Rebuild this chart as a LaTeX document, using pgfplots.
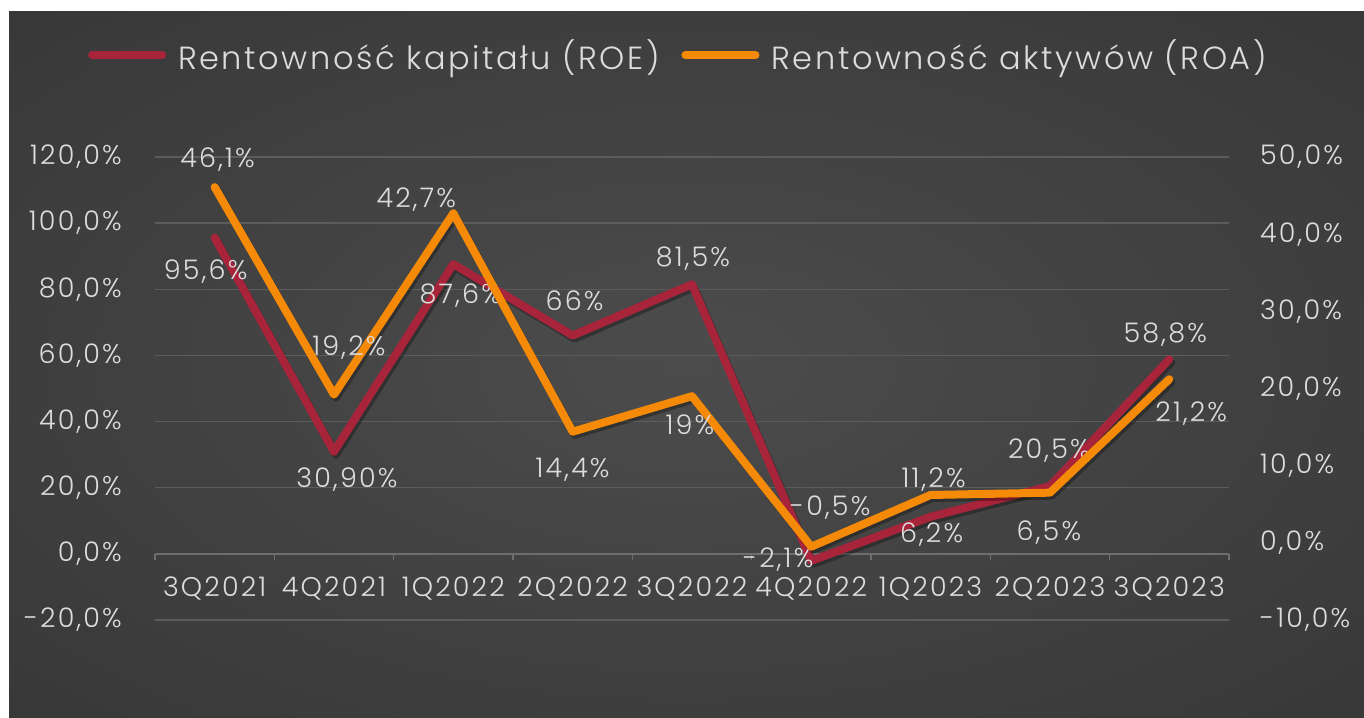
\documentclass[border=0pt]{standalone}
\usepackage{pgfplots}
\pgfplotsset{compat=1.18}
\usepackage{pgfplotstable}
\usepackage{fontspec}
\setmainfont{Poppins}[UprightFont={* Light}, LetterSpace=8]
\definecolor{roe}{RGB}{168,36,58}
\definecolor{roa}{RGB}{245,138,8}
\definecolor{txt}{RGB}{220,220,220}
\definecolor{gridc}{RGB}{92,92,92}
\definecolor{axc}{RGB}{110,110,110}
\definecolor{bgin}{RGB}{76,76,76}
\definecolor{bgout}{RGB}{36,36,36}
\pgfdeclareradialshading{bgshade}{\pgfpoint{0bp}{0bp}}{color(0bp)=(bgin); color(70bp)=(bgout)}

\pgfplotstableread{
x y lab dx dy
0 95.6 95,6 -9 -34
1 30.9 30,90 13 -28
2 87.6 87,6 7 -31
3 66 66 2 35
4 81.5 81,5 1 26
5 -2.1 -2,1 -33 1
6 11.2 11,2 3 37
7 20.5 20,5 -1 35
8 58.8 58,8 -4 25
}\roetable
\pgfplotstableread{
x y lab dx dy
0 46.1 46,1 3 27
1 19.2 19,2 15 47
2 42.7 42,7 -37 14
3 14.4 14,4 0 -38
4 19 19 -2 -29
5 -0.5 -0,5 19 39
6 6.2 6,2 1 -40
7 6.5 6,5 -1 -40
8 21.2 21,2 22 -34
}\roatable

\pgfplotsset{
  base/.style={
    scale only axis, width=1074pt, height=463pt,
    at={(155pt,97pt)}, anchor=south west,
    xmin=-0.5, xmax=8.5,
    tick label style={text=txt, font=\fontsize{27}{31}\selectfont},
    /pgf/number format/assume math mode=true,
    clip=false,
  },
  lbl/.style={
    nodes near coords={\pgfplotspointmeta\%},
    point meta=explicit symbolic,
    visualization depends on={\thisrow{dx}\as\dx},
    visualization depends on={\thisrow{dy}\as\dy},
    nodes near coords align={anchor=center},
    every node near coord/.append style={text=txt, font=\fontsize{27}{31}\selectfont, xshift=\dx pt, yshift=\dy pt, inner sep=0pt, anchor=center},
  },
  ln/.style={line width=8pt, line join=round, line cap=round, mark=none},
  shadow/.style={black, opacity=0.3, line width=8pt, line join=round, line cap=round, mark=none, forget plot, xshift=2pt, yshift=-3pt},
}

\begin{document}
\begin{tikzpicture}
\useasboundingbox (0pt,0pt) rectangle (1364pt,717pt);
\fill[white] (0pt,0pt) rectangle (1364pt,717pt);
\shade[shading=bgshade] (9pt,0pt) rectangle (1364pt,705pt);

\begin{axis}[base,
  ymin=-20, ymax=120, ytick={-20,0,...,120},
  yticklabels={{-20,0\%},{0,0\%},{20,0\%},{40,0\%},{60,0\%},{80,0\%},{100,0\%},{120,0\%}},
  axis x line*=middle, axis y line*=left,
  x axis line style={draw=axc, line width=1.5pt},
  y axis line style={draw=none},
  ytick style={draw=none},
  ymajorgrids, major grid style={draw=gridc, line width=1.5pt},
  xtick={0,...,8},
  xticklabels={3Q2021,4Q2021,1Q2022,2Q2022,3Q2022,4Q2022,1Q2023,2Q2023,3Q2023},
  major x tick style={draw=none},
  minor xtick={-0.5,0.5,...,8.5},
  minor x tick style={draw=axc, line width=1.2pt},
  minor tick length=6pt,
  xtick align=outside,
  xticklabel style={anchor=north, inner sep=0pt, yshift=-18pt},
  yticklabel style={anchor=east, inner sep=0pt, xshift=-33pt},
]
\addplot[shadow] table[x=x, y=y] {\roetable};
\addplot[roe, ln, lbl] table[x=x, y=y, meta=lab] {\roetable};
\end{axis}

\begin{axis}[base,
  ymin=-10, ymax=50, ytick={-10,0,...,50},
  yticklabels={{-10,0\%},{0,0\%},{10,0\%},{20,0\%},{30,0\%},{40,0\%},{50,0\%}},
  axis x line=none, xtick=\empty,
  axis y line*=right,
  y axis line style={draw=none},
  ytick style={draw=none},
  yticklabel style={anchor=west, inner sep=0pt, xshift=31pt},
  legend style={at={(0.4874,1.22)}, anchor=center, draw=none, fill=none,
    font=\fontsize{32}{36}\selectfont, text=txt, inner sep=0pt,
    /tikz/every even column/.append style={column sep=20pt}},
  legend columns=2,
  legend image code/.code={\draw[#1, line width=8pt, line cap=round] (0pt,0pt) -- (70pt,0pt);\path (80pt,0pt);},
]
\addlegendimage{roe, line width=8pt}
\addlegendentry{Rentowność kapitału (ROE)}
\addplot[shadow] table[x=x, y=y] {\roatable};
\addplot[roa, ln, lbl] table[x=x, y=y, meta=lab] {\roatable};
\addlegendentry{Rentowność aktywów (ROA)}
\end{axis}
\end{tikzpicture}
\end{document}
